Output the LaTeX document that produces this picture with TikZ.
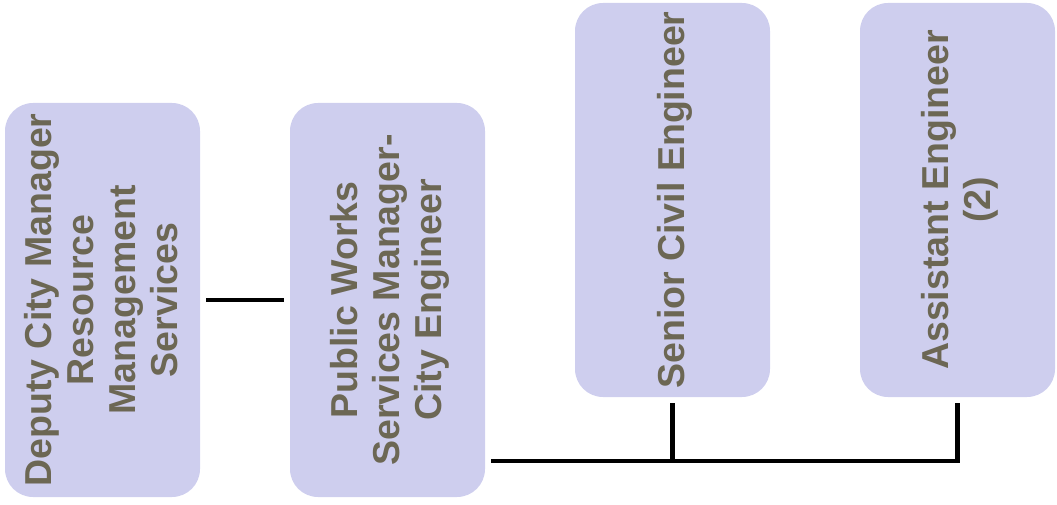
\documentclass[tikz,border=0pt]{standalone}
\usepackage{fontspec}
\setmainfont{Liberation Sans}
\usepackage{graphicx}
\definecolor{boxfill}{RGB}{206,206,238}
\definecolor{boxtext}{RGB}{108,103,84}
\tikzset{
  orgbox/.style={fill=boxfill, draw=none, rounded corners=28pt,
    minimum width=195pt, minimum height=394pt, inner sep=0pt,
    text=boxtext, font=\fontsize{37.5}{42}\selectfont\bfseries},
  conn/.style={line width=4.6pt, draw=black, line cap=butt, line join=miter}
}
\newcommand{\vtext}[1]{\rotatebox{90}{\raisebox{-4pt}[\height][\depth]{\begin{tabular}{@{}c@{}}#1\end{tabular}}}}
\begin{document}
\begin{tikzpicture}[x=1pt,y=-1pt]
\useasboundingbox (0,0) rectangle (1057,505);
\node[orgbox] (b1) at (102.5,300) {\vtext{Deputy City Manager\\Resource\\Management\\Services}};
\node[orgbox] (b2) at (387.5,300) {\vtext{Public Works\\Services Manager-\\City Engineer}};
\node[orgbox] (b3) at (672.5,200) {\vtext{Senior Civil Engineer}};
\node[orgbox] (b4) at (957.5,200) {\vtext{Assistant Engineer\\(2)}};
\coordinate (j1) at (672.5,461);
\coordinate (j2) at (957.5,461);
\draw[conn, shorten <=6pt, shorten >=6pt] (b1.east) -- (b2.west);
\draw[conn, shorten <=6pt, shorten >=6pt] (b2.east |- j1) -- (j1) -- (j2) -- (b4.south);
\draw[conn, shorten >=6pt] (j1) -- (b3.south);
\end{tikzpicture}
\end{document}
